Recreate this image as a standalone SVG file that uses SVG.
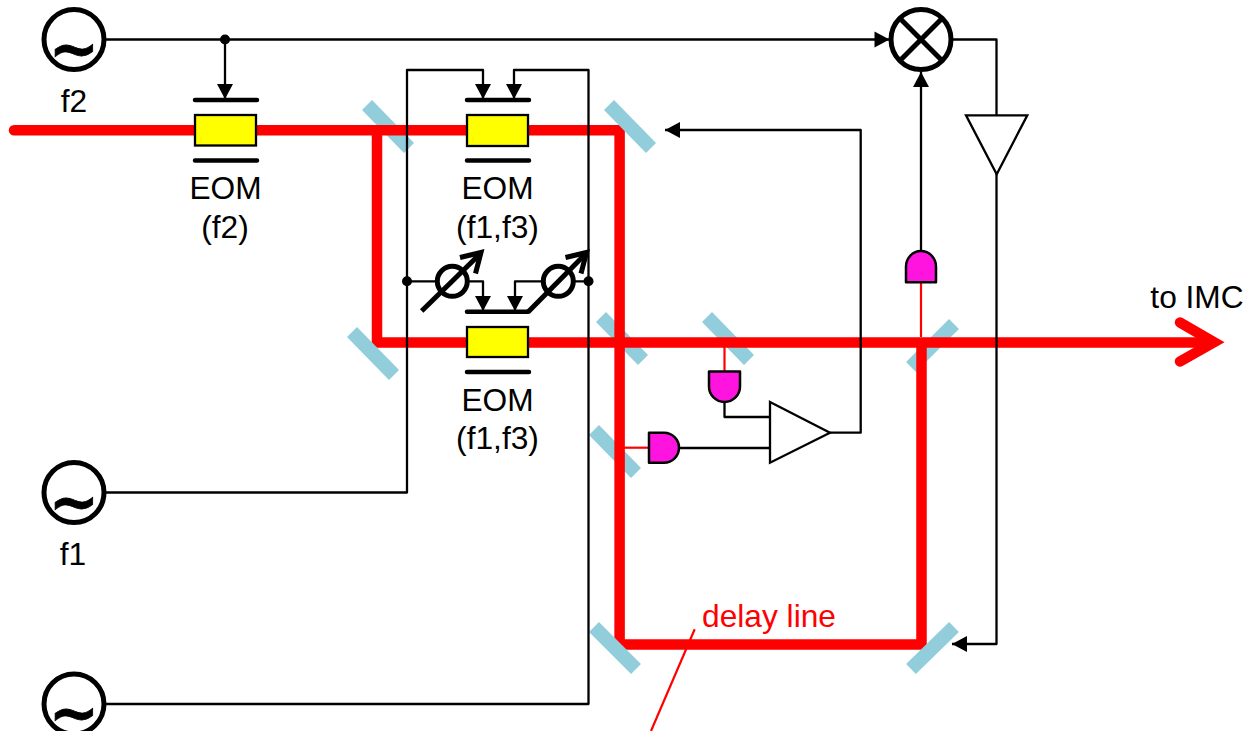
<svg xmlns="http://www.w3.org/2000/svg" width="1245" height="731" viewBox="0 0 1245 731">
<style>
text{font-family:"Liberation Sans",Arial,sans-serif;font-size:31.7px;fill:#000;text-anchor:middle}
text.tilde{font-family:"DejaVu Sans",sans-serif;font-weight:bold;font-size:60px;stroke:#000;stroke-width:.8}
.mirror{stroke:#92CDDC;stroke-width:14;fill:none}
.beam{stroke:#f00;stroke-width:10.5;fill:none;stroke-linejoin:miter}
.wire{stroke:#000;stroke-width:2.3;fill:none;stroke-linejoin:round}
.red{stroke:#f00;stroke-width:2.2;fill:none}
.ring{stroke:#000;stroke-width:5;fill:#fff}
.bar{stroke:#000;stroke-width:4.5;stroke-linecap:round;fill:none}
.box{fill:#ff0;stroke:#000;stroke-width:2.3}
.pd{fill:#FF14DF;stroke:#000;stroke-width:2.5;stroke-linejoin:round}
.amp{fill:#fff;stroke:#000;stroke-width:2.3;stroke-linejoin:miter}
.thick{stroke:#000;stroke-width:5;fill:none;stroke-linejoin:miter}
</style>
<defs>
<marker id="arr" markerUnits="userSpaceOnUse" markerWidth="17" markerHeight="17" refX="16" refY="8.500" orient="auto"><path d="M1,0.500 L16,8.500 L1,16.500 Z" fill="#000"/></marker>
</defs>
<g id="mirrors-behind">
<line id="mirror1" class="mirror" x1="367" y1="105" x2="409" y2="148"/>
<line id="mirror4" class="mirror" x1="601" y1="317" x2="643" y2="360"/>
<line id="mirror5" class="mirror" x1="707" y1="317" x2="749" y2="360"/>
<line id="mirror6" class="mirror" x1="594" y1="430" x2="636" y2="473"/>
<line id="mirror9" class="mirror" x1="954" y1="324" x2="911" y2="367"/>
</g>
<g id="beams">
<path class="beam" stroke-linecap="round" d="M14,130.300 H619"/>
<path class="beam" d="M377,130.300 V342.500 H1214"/>
<path class="beam" d="M619.600,125 V644.500 H921.500 V342.500"/>
<path class="beam" stroke-linecap="round" d="M1180,322.500 L1214,342.300 L1180,361.500"/>
</g>
<g id="mirrors-front">
<line id="mirror2" class="mirror" x1="609" y1="105" x2="651" y2="148"/>
<line id="mirror3" class="mirror" x1="352" y1="332" x2="394" y2="375"/>
<line id="mirror7" class="mirror" x1="594" y1="627" x2="636" y2="669"/>
<line id="mirror8" class="mirror" x1="954" y1="627" x2="911" y2="669"/>
</g>
<g id="connectors">
<path class="wire" marker-end="url(#arr)" d="M105,39.500 H889.500"/>
<path class="wire" marker-end="url(#arr)" d="M225,39.500 V99"/>
<path class="wire" marker-end="url(#arr)" d="M105,492.500 H407 V70 H483 V99"/>
<path class="wire" marker-end="url(#arr)" d="M105,704 H588.500 V70 H514 V99"/>
<path class="wire" marker-end="url(#arr)" d="M407,281.300 H437 M467,281.300 H483 V311"/>
<path class="wire" marker-end="url(#arr)" d="M588.500,281.300 H573 M543,281.300 H515 V311"/>
<path class="wire" d="M724.500,402 V417 H770"/>
<path class="wire" d="M679,448 H770"/>
<path class="wire" marker-end="url(#arr)" d="M830,432.700 H860.700 V130 H665"/>
<path class="wire" marker-end="url(#arr)" d="M921,250.700 V72"/>
<path class="wire" d="M952,39.500 H996.500 V115"/>
<path class="wire" marker-end="url(#arr)" d="M996.500,174 V644 H952"/>
<path class="red" d="M724.500,347 V371.500"/>
<path class="red" d="M624,447.700 H649"/>
<path class="red" d="M921,282.300 V337"/>
<path class="red" d="M694.700,629.300 L651,731"/>
<circle cx="225" cy="39.500" r="5"/>
<circle cx="407" cy="281.300" r="5"/>
<circle cx="588.500" cy="281.300" r="5"/>
</g>
<g id="osc-f2"><circle class="ring" cx="74" cy="39.500" r="30"/><text class="tilde" x="74" y="69.500">~</text><text x="74" y="112">f2</text></g>
<g id="osc-f1"><circle class="ring" cx="74" cy="492.500" r="30"/><text class="tilde" x="74" y="522.500">~</text><text x="73" y="565">f1</text></g>
<g id="osc-f3"><circle class="ring" cx="74" cy="704" r="30"/><text class="tilde" x="74" y="734">~</text></g>
<g id="eom-f2"><path class="bar" d="M195,100 H257 M195,160.500 H257"/><rect class="box" x="195" y="115" width="61" height="30.500"/><text x="225.500" y="198.500">EOM</text><text x="225" y="238">(f2)</text></g>
<g id="eom-top"><path class="bar" d="M467,100 H529 M467,160.500 H529"/><rect class="box" x="467" y="115" width="61" height="31"/><text x="497.500" y="198.500">EOM</text><text x="497.500" y="238">(f1,f3)</text></g>
<g id="eom-bottom"><path class="bar" d="M467,311.700 H528.300 M467,372 H529"/><rect class="box" x="467" y="327" width="61" height="30"/><text x="497.500" y="410.700">EOM</text><text x="497.500" y="449">(f1,f3)</text></g>
<g id="phase-left"><circle cx="452.300" cy="281.300" r="15" fill="none" stroke="#000" stroke-width="5"/><path class="thick" d="M421.700,311 L480,254"/><path class="thick" d="M460,257.500 L481,252.500 L475.500,273.500"/></g>
<g id="phase-right"><circle cx="558.300" cy="281.300" r="15" fill="none" stroke="#000" stroke-width="5"/><path class="thick" d="M528.300,311.700 L585.500,254"/><path class="thick" d="M565.500,257.500 L586.500,252.500 L581,273.500"/></g>
<g id="pd-1"><path class="pd" d="M709,371.500 H740 V386.500 A15.500,15.500 0 0 1 709,386.500 Z"/></g>
<g id="pd-2"><path class="pd" d="M649,432.700 H664 A15,15 0 0 1 664,462.700 H649 Z"/></g>
<g id="pd-3"><path class="pd" d="M906,282.300 H936 V266.500 A15,15.500 0 0 0 906,266.500 Z"/></g>
<g id="amp-1"><path class="amp" d="M770,402 L830,432.700 L770,462.700 Z"/></g>
<g id="amp-2"><path class="amp" d="M966,115.300 H1027.300 L996.700,174.300 Z"/></g>
<g id="mixer"><circle class="ring" cx="921" cy="39.500" r="30"/><path class="thick" d="M899.800,18.300 L942.200,60.700 M942.200,18.300 L899.800,60.700"/></g>
<g id="labels"><text x="1197" y="308">to IMC</text><text x="769" y="627" style="fill:#f00">delay line</text></g>
</svg>
